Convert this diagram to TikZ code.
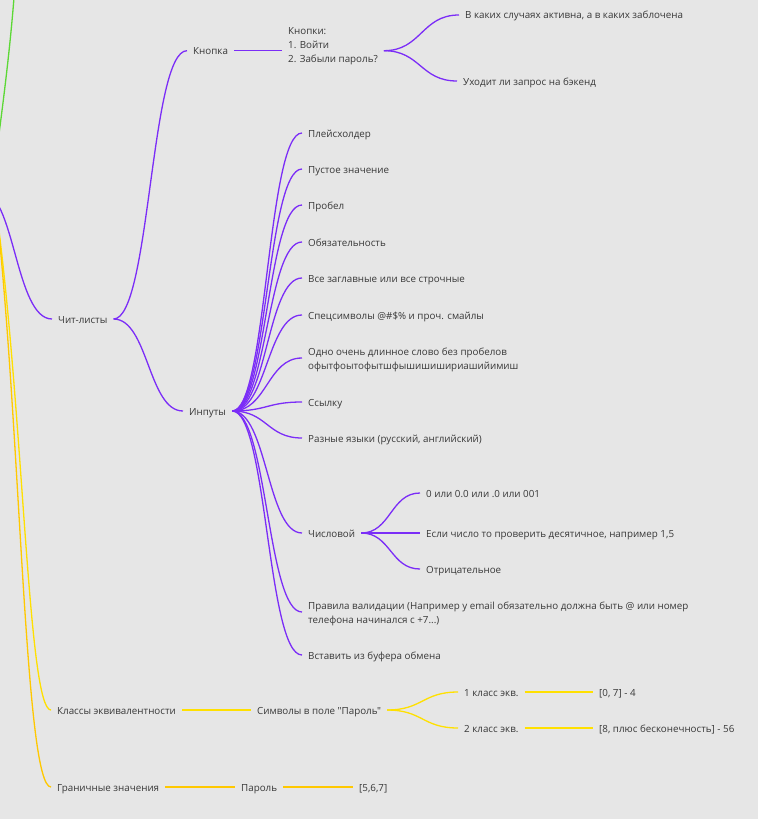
\documentclass[tikz,border=0pt]{standalone}
\usepackage{fontspec}
\setmainfont{Open Sans}[Ligatures=TeXOff]
\usetikzlibrary{calc}
\definecolor{bg}{HTML}{E6E6E6}
\definecolor{pur}{HTML}{7B2DF7}
\definecolor{yel}{HTML}{FFE000}
\definecolor{org}{HTML}{FFC800}
\definecolor{grn}{HTML}{5CD835}
\definecolor{txt}{HTML}{383838}
\begin{document}
\begin{tikzpicture}[x=1pt,y=-1pt,
  lbl/.style={anchor=west,inner xsep=6pt,inner ysep=0pt,text=txt,
    font=\fontsize{9.8}{14.3}\selectfont,text height=9pt,text depth=1pt},
  mlbl/.style={anchor=west,inner xsep=6pt,inner ysep=0pt,text=txt,align=left,
    font=\fontsize{9.8}{14.3}\selectfont},
  pl/.style={draw=pur,line width=1.3pt},
  yl/.style={draw=yel,line width=1.3pt},
  ol/.style={draw=org,line width=1.3pt},
  gl/.style={draw=grn,line width=1.3pt},
  hc/.style={to path={let \p1=(\tikztostart), \p2=(\tikztotarget),
    \p3=($(\p1)!0.5!(\p2)$) in .. controls (\x3,\y1) and (\x3,\y2) .. (\p2)}}
]
\fill[bg] (0,0) rectangle (758,819);
\useasboundingbox (0,0) rectangle (758,819);
\begin{scope}
\clip (0,0) rectangle (758,819);

% nodes
\node[lbl] (chit) at (52,319) {Чит-листы};
\node[lbl] (knopka) at (187,50.7) {Кнопка};
\node[mlbl] (knl) at (282,46.3) {Кнопки:\\1. Войти\\2. Забыли пароль?};
\node[lbl] (b1) at (459,15) {В каких случаях активна, а в каких заблочена};
\node[lbl] (b2) at (457,81) {Уходит ли запрос на бэкенд};

\node[lbl] (inp) at (183,411) {Инпуты};
\node[lbl] (i1) at (302,133) {Плейсхолдер};
\node[lbl] (i2) at (302,169) {Пустое значение};
\node[lbl] (i3) at (302,205) {Пробел};
\node[lbl] (i4) at (302,242) {Обязательность};
\node[lbl] (i5) at (302,278) {Все заглавные или все строчные};
\node[lbl] (i6) at (302,315) {Спецсимволы @\#\$\% и проч. смайлы};
\node[mlbl] (i7) at (302,360) {Одно очень длинное слово без пробелов\\офытфоытофытшфышишишириашийимиш};
\node[lbl] (i8) at (302,402) {Ссылку};
\node[lbl] (i9) at (302,438) {Разные языки (русский, английский)};
\node[lbl] (i10) at (302,533) {Числовой};
\node[mlbl] (i11) at (302,614) {Правила валидации (Например у email обязательно должна быть @ или номер\\телефона начинался с +7...)};
\node[lbl] (i12) at (302,655) {Вставить из буфера обмена};

\node[lbl] (n1) at (420,493) {0 или 0.0 или .0 или 001};
\node[lbl] (n2) at (420,533) {Если число то проверить десятичное, например 1,5};
\node[lbl] (n3) at (420,569) {Отрицательное};

\node[lbl] (kl) at (51,710) {Классы эквивалентности};
\node[lbl] (sym) at (251,710) {Символы в поле "Пароль"};
\node[lbl] (c1) at (458,692) {1 класс экв.};
\node[lbl] (c2) at (458,728) {2 класс экв.};
\node[lbl] (v1) at (593,692) {[0, 7] - 4};
\node[lbl] (v2) at (593,728) {[8, плюс бесконечность] - 56};
\node[lbl] (gr) at (51,787) {Граничные значения};
\node[lbl] (par) at (235,787) {Пароль};
\node[lbl] (v3) at (353,787) {[5,6,7]};

% off-canvas root branches
\coordinate (rp) at (-20,190);
\coordinate (ry) at (-3,215);
\coordinate (rg1) at (-4.5,160);
\coordinate (rg2) at (16.5,-40);
\draw[gl] (rg1) .. controls (5,90) and (13,25) .. (rg2);
\draw[pl] (rp) .. controls (15,190) and (15,319) .. (chit.west);
\draw[yl] (ry) .. controls (24,420) and (28,710) .. (kl.west);
\draw[ol] (ry) .. controls (21,440) and (25,787) .. (gr.west);

% purple connectors
\draw[pl,hc] (chit.east) to (knopka.west);
\draw[pl,hc] (chit.east) to (inp.west);
\draw[pl] (knopka.east) -- ([yshift=-4.4pt]knl.west);
\draw[pl,hc] ([yshift=-4.4pt]knl.east) to (b1.west);
\draw[pl,hc] ([yshift=-4.4pt]knl.east) to (b2.west);
\foreach \c in {i1,i2,i3,i4,i5,i6,i8,i9,i10,i12}
  \draw[pl,hc] (inp.east) to (\c.west);
\draw[pl,hc] (inp.east) to ([yshift=2pt]i7.west);
\draw[pl,hc] (inp.east) to ([yshift=2pt]i11.west);
\foreach \c in {n1,n2,n3}
  \draw[pl,hc] (i10.east) to (\c.west);

% yellow connectors
\draw[yl] (kl.east) -- (sym.west);
\draw[yl,hc] (sym.east) to (c1.west);
\draw[yl,hc] (sym.east) to (c2.west);
\draw[yl] (c1.east) -- (v1.west);
\draw[yl] (c2.east) -- (v2.west);
\draw[ol] (gr.east) -- (par.west);
\draw[ol] (par.east) -- (v3.west);
\end{scope}
\end{tikzpicture}
\end{document}
